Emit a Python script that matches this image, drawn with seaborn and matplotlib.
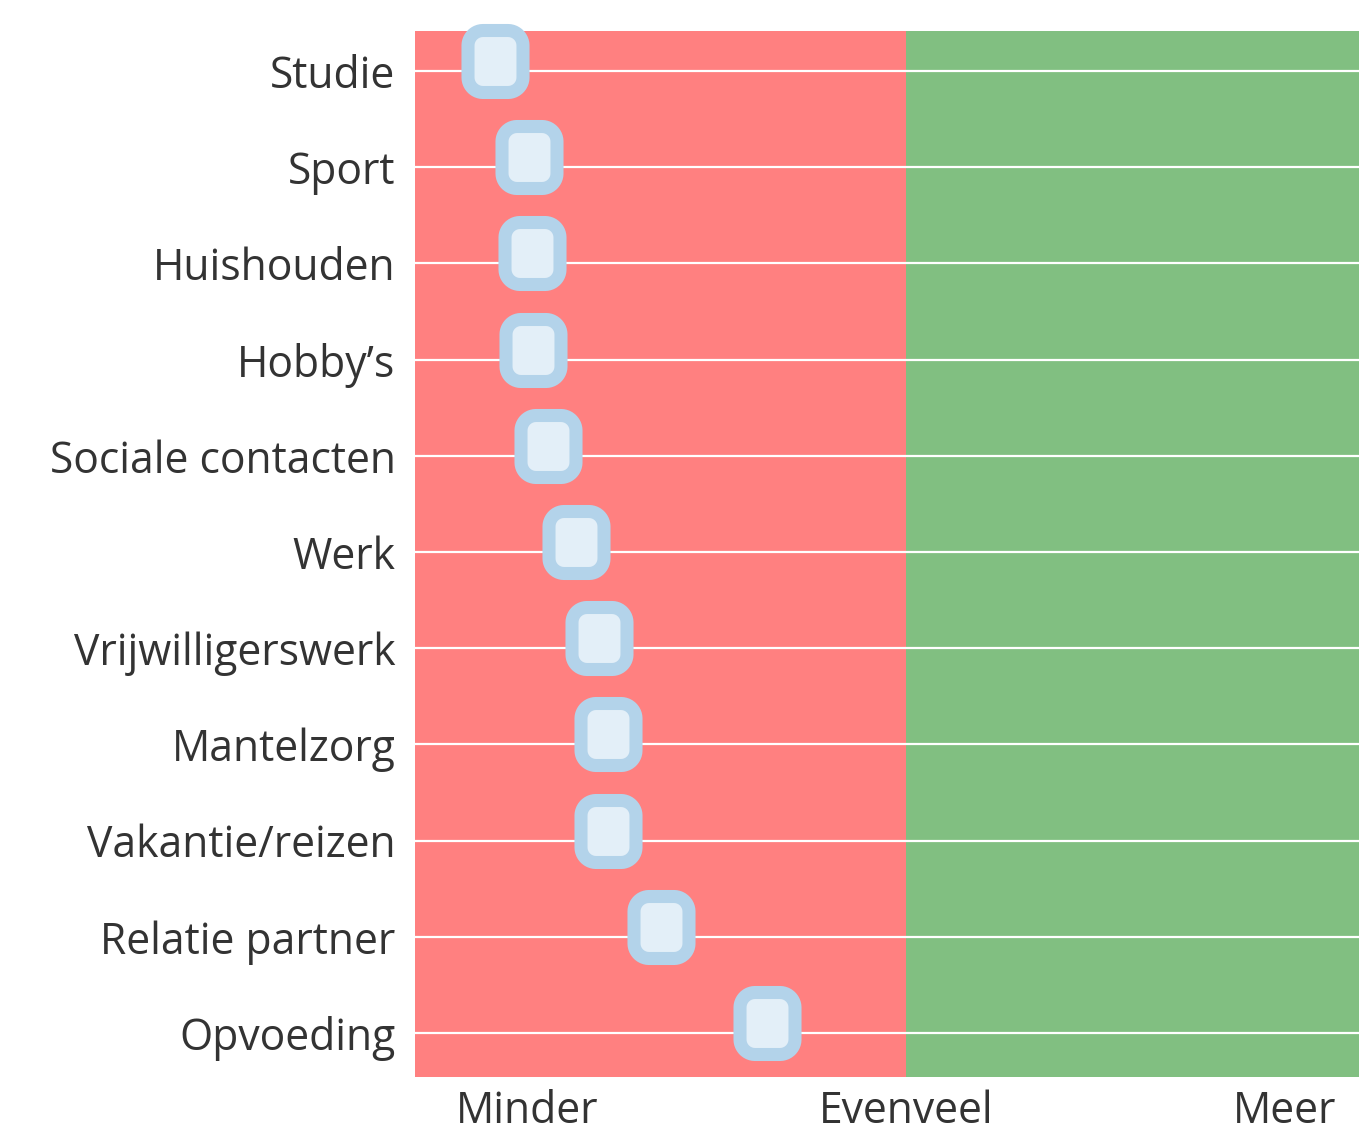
import numpy as np
import pandas as pd
import seaborn as sns
import matplotlib.pyplot as plt
from matplotlib.path import Path

categories = ['Studie', 'Sport', 'Huishouden', 'Hobby\u2019s', 'Sociale contacten', 'Werk',
              'Vrijwilligerswerk', 'Mantelzorg', 'Vakantie/reizen', 'Relatie partner', 'Opvoeding']
scores = [0.915, 1.005, 1.013, 1.016, 1.056, 1.13, 1.19, 1.214, 1.214, 1.354, 1.632]
x_ticks = [1, 2, 3]
x_labels = ['Minder', 'Evenveel', 'Meer']

RED = '#ff8080'
GREEN = '#81bf81'
EDGE = '#b3d3ea'
FACE = '#e3eff8'
TEXT = '#333333'

sns.set_style('white')
plt.rcParams['font.family'] = ['Open Sans', 'DejaVu Sans']


def rounded_box(w=55, h=62, r=15, dy=10, n=12):
    # rounded rectangle marker (units ~ px), sitting a little above the line
    hw, hh = w / 2 - r, h / 2 - r
    pts = []
    for cx, cy, a0 in [(hw, hh, 0), (-hw, hh, 90), (-hw, -hh, 180), (hw, -hh, 270)]:
        for t in np.linspace(a0, a0 + 90, n):
            pts.append((cx + r * np.cos(np.radians(t)), cy + dy + r * np.sin(np.radians(t))))
    pts.append(pts[0])
    codes = [Path.MOVETO] + [Path.LINETO] * (len(pts) - 2) + [Path.CLOSEPOLY]
    return Path(pts, codes), max(w / 2, h / 2 + dy)


marker_path, extent = rounded_box()
ms = 0.72 * 2 * extent  # points, so that one path unit is one pixel at 100 dpi

df = pd.DataFrame({'categorie': categories, 'score': scores})

fig = plt.figure(figsize=(13.59, 11.36), dpi=100)
ax = fig.add_axes([0.3054, 0.0519, 0.6946, 0.9208])

xmin, xmax = 0.704, 3.196
ax.axvspan(xmin, 2, color=RED, lw=0, zorder=0)
ax.axvspan(2, xmax, color=GREEN, lw=0, zorder=0)

sns.scatterplot(data=df, x='score', y='categorie', ax=ax, marker=marker_path,
                s=ms ** 2, color=FACE, edgecolor=EDGE, linewidth=9.4, zorder=3,
                legend=False, clip_on=False)

ax.set_xlim(xmin, xmax)
ax.set_ylim(10.457, -0.416)
ax.set_yticks(range(len(categories)))
ax.set_yticklabels(categories)
ax.set_xticks(x_ticks)
ax.set_xticklabels(x_labels)
ax.yaxis.grid(True, color='white', lw=1.6, zorder=1)
ax.xaxis.grid(False)
ax.set_axisbelow(False)
for coll in ax.collections:
    coll.set_zorder(3)
ax.tick_params(axis='y', length=0, pad=14, labelsize=30.7, labelcolor=TEXT)
ax.tick_params(axis='x', length=0, pad=9, labelsize=30.7, labelcolor=TEXT)
ax.set_xlabel('')
ax.set_ylabel('')
sns.despine(ax=ax, left=True, bottom=True)

fig.savefig('out.png', dpi=100)
